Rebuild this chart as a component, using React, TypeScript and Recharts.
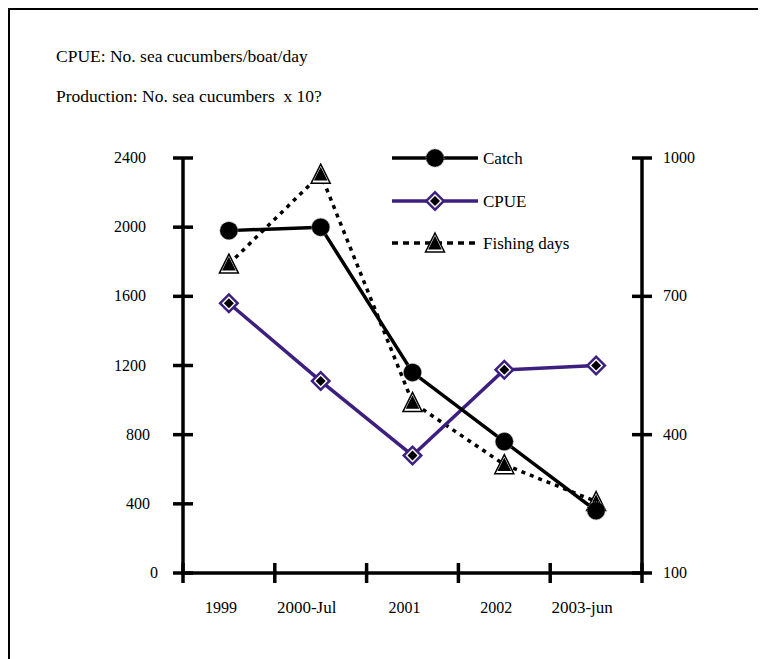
import { LineChart, Line, XAxis, YAxis } from "recharts";

const years = ["1999", "2000-Jul", "2001", "2002", "2003-jun"];
const catchVals = [1980, 2000, 1160, 760, 360];
const cpueVals = [1560, 1110, 680, 1175, 1200];
const fishingDays = [770, 965, 470, 335, 255];
const leftTicks = [0, 400, 800, 1200, 1600, 2000, 2400];
const rightTicks = [100, 400, 700, 1000];

const data = years.map((y, i) => ({
  year: y,
  catchV: catchVals[i],
  cpue: cpueVals[i],
  days: fishingDays[i],
}));

const FONT = "'Liberation Serif', 'Times New Roman', serif";
const FS = 16;
const FS_TEXT = 17.5;
const PURPLE = "#3c1f7e";
const W = 758;
const H = 651;
const M = { top: 150, right: 64, bottom: 46, left: 115 };
const PLOT_W = W - M.left - M.right - 120;
const BAND = PLOT_W / years.length;

// markers
function CatchDot({ cx, cy }: any) {
  if (cx == null || cy == null) return null;
  return (
    <g>
      <circle cx={cx} cy={cy} r={9} fill="#000" stroke="#999" strokeWidth={1} strokeDasharray="1 1" />
    </g>
  );
}

function CpueDot({ cx, cy }: any) {
  if (cx == null || cy == null) return null;
  const d = (s: number) => `M${cx},${cy - s} L${cx + s},${cy} L${cx},${cy + s} L${cx - s},${cy} Z`;
  return (
    <g>
      <path d={d(10.5)} fill={PURPLE} />
      <path d={d(7)} fill="#fff" />
      <path d={d(5)} fill="#000" />
    </g>
  );
}

function FishDot({ cx, cy }: any) {
  if (cx == null || cy == null) return null;
  const tri = (s: number) =>
    `M${cx},${cy - 10 * s} L${cx + 9.5 * s},${cy + 9 * s} L${cx - 9.5 * s},${cy + 9 * s} Z`;
  return (
    <g>
      <path d={tri(1)} fill="#fff" stroke="#000" strokeWidth={1.5} />
      <path d={tri(0.72)} fill="#000" />
    </g>
  );
}

// axis ticks that cross the axis line
function LeftTick({ x, y, payload }: any) {
  const s = String(payload.value);
  return (
    <g>
      <line x1={x - 10} x2={x + 10} y1={y} y2={y} stroke="#000" strokeWidth={3.5} />
      <text x={x - 25 - (s.length - 1) * 4} y={y + 5} textAnchor="end" fontFamily={FONT} fontSize={FS} fill="#000">
        {s}
      </text>
    </g>
  );
}

function RightTick({ x, y, payload }: any) {
  return (
    <g>
      <line x1={x - 10} x2={x + 10} y1={y} y2={y} stroke="#000" strokeWidth={3.5} />
      <text x={x + 21} y={y + 5} textAnchor="start" fontFamily={FONT} fontSize={FS} fill="#000">
        {payload.value}
      </text>
    </g>
  );
}

function BottomTick({ x, y, payload, index }: any) {
  const s = String(payload.value);
  const last = index === years.length - 1;
  return (
    <g>
      <line x1={x - BAND / 2} x2={x - BAND / 2} y1={y - 10} y2={y + 10} stroke="#000" strokeWidth={3.5} />
      {last && (
        <line x1={x + BAND / 2} x2={x + BAND / 2} y1={y - 10} y2={y + 10} stroke="#000" strokeWidth={3.5} />
      )}
      <text x={x - 8 - (s.length - 4) * 1.5} y={y + 40} textAnchor="middle" fontFamily={FONT} fontSize={s.length > 4 ? 17 : FS} fill="#000">
        {s}
      </text>
    </g>
  );
}

const legendItems = [
  { name: "Catch", color: "#000", dash: undefined as string | undefined, Dot: CatchDot, y: 150 },
  { name: "CPUE", color: PURPLE, dash: undefined, Dot: CpueDot, y: 193 },
  { name: "Fishing days", color: "#000", dash: "6 5", Dot: FishDot, y: 235 },
];

export default function App() {
  return (
    <div style={{ position: "relative", width: W, height: H, fontFamily: FONT }}>
      <div
        style={{
          position: "absolute",
          left: 0,
          top: 0,
          width: W,
          height: H,
          boxSizing: "border-box",
          borderTop: "2px solid #000",
          borderLeft: "2px solid #000",
        }}
      />
      <div style={{ position: "absolute", left: 48, top: 38, fontSize: FS_TEXT, lineHeight: "20px", whiteSpace: "pre" }}>
        CPUE: No. sea cucumbers/boat/day
      </div>
      <div style={{ position: "absolute", left: 48, top: 78, fontSize: FS_TEXT, lineHeight: "20px", whiteSpace: "pre" }}>
        Production: No. sea cucumbers  x 10?
      </div>
      <div style={{ position: "absolute", left: 0, top: 0 }}>
        <LineChart width={W} height={H} data={data} margin={M}>
          <XAxis
            dataKey="year"
            height={40}
            padding={{ left: BAND / 2, right: BAND / 2 }}
            axisLine={{ stroke: "#000", strokeWidth: 3.5 }}
            tickLine={false}
            tickSize={0}
            tickMargin={0}
            tick={<BottomTick />}
            interval={0}
          />
          <YAxis
            yAxisId="left"
            orientation="left"
            width={60}
            domain={[0, 2400]}
            ticks={leftTicks}
            axisLine={{ stroke: "#000", strokeWidth: 3.5 }}
            tickLine={false}
            tickSize={0}
            tickMargin={0}
            tick={<LeftTick />}
            interval={0}
          />
          <YAxis
            yAxisId="right"
            orientation="right"
            width={60}
            domain={[100, 1000]}
            ticks={rightTicks}
            axisLine={{ stroke: "#000", strokeWidth: 3.5 }}
            tickLine={false}
            tickSize={0}
            tickMargin={0}
            tick={<RightTick />}
            interval={0}
          />
          <Line
            yAxisId="right"
            dataKey="days"
            stroke="#000"
            strokeWidth={3.5}
            strokeDasharray="4 5"
            dot={(p: any) => <FishDot key={p.index} cx={p.cx} cy={p.cy} />}
            isAnimationActive={false}
          />
          <Line
            yAxisId="left"
            dataKey="cpue"
            stroke={PURPLE}
            strokeWidth={3.5}
            dot={(p: any) => <CpueDot key={p.index} cx={p.cx} cy={p.cy} />}
            isAnimationActive={false}
          />
          <Line
            yAxisId="left"
            dataKey="catchV"
            stroke="#000"
            strokeWidth={3.5}
            dot={(p: any) => <CatchDot key={p.index} cx={p.cx} cy={p.cy} />}
            isAnimationActive={false}
          />
        </LineChart>
      </div>
      <svg style={{ position: "absolute", left: 0, top: 0 }} width={W} height={H} pointerEvents="none">
        {legendItems.map((it) => (
          <g key={it.name}>
            <line x1={384} x2={470} y1={it.y} y2={it.y} stroke={it.color} strokeWidth={3.5} strokeDasharray={it.dash} />
            <it.Dot cx={427} cy={it.y} />
            <text x={475} y={it.y + 6} fontFamily={FONT} fontSize={17} fill="#000">
              {it.name}
            </text>
          </g>
        ))}
      </svg>
    </div>
  );
}
